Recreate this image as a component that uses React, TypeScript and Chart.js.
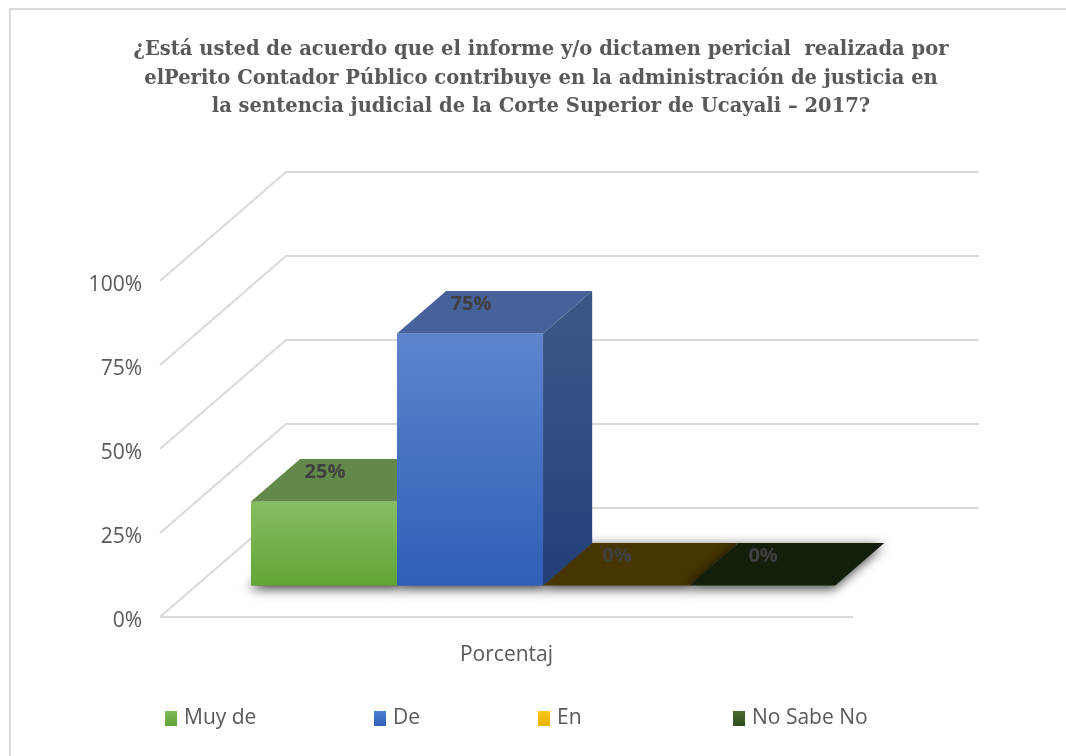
import React, { useEffect, useRef } from "react";
import { Chart, registerables } from "chart.js";

Chart.register(...registerables);

// ---------- data ----------
const TITLE_LINES = [
  "¿Está usted de acuerdo que el informe y/o dictamen pericial  realizada por",
  "elPerito Contador Público contribuye en la administración de justicia en",
  "la sentencia judicial de la Corte Superior de Ucayali – 2017?",
];
const CATEGORIES = ["Porcentaj"];
const SERIES_NAMES = ["Muy de", "De", "En", "No Sabe No"];
const SERIES_VALUES = [0.25, 0.75, 0, 0];
const Y_TICK_STEP = 0.25;
const Y_MAX = 1;

// ---------- styles ----------
const LEGEND_COLORS = [
  ["#7dbb57", "#5fa235"],
  ["#4f7fd0", "#2f5fb8"],
  ["#ffca1c", "#eab000"],
  ["#4a6d30", "#2e4d1a"],
];
const FRONT_COLORS = [
  ["#86bd63", "#62a536"],
  ["#5e84cd", "#2e5fb7"],
  ["#ffc000", "#e0a800"],
  ["#4b6e31", "#375623"],
];
const TOP_COLORS = ["#62894a", "#47619a", "#473600", "#141f0b"];
const SIDE_COLORS = [
  ["#557d3d", "#41692a"],
  ["#3a5588", "#223f78"],
  ["#5a4500", "#3a2c00"],
  ["#1e2d12", "#141f0b"],
];
const TEXT = "#595959";
const GRID = "#d9d9d9";
const SANS = '"Open Sans", "Noto Sans", sans-serif';

// depth geometry (full depth offset of the 3D box, and bar depth range)
const DX = 126;
const DY = 109;
const F0 = 0.29;
const F1 = 0.68;
const proj = (x: number, y: number, f: number): [number, number] => [x + f * DX, y - f * DY];

function poly(ctx: CanvasRenderingContext2D, pts: [number, number][]) {
  ctx.beginPath();
  ctx.moveTo(pts[0][0], pts[0][1]);
  for (let i = 1; i < pts.length; i++) ctx.lineTo(pts[i][0], pts[i][1]);
  ctx.closePath();
}

const threeD = {
  id: "threeD",
  beforeDraw(chart: any) {
    const ctx = chart.ctx as CanvasRenderingContext2D;
    ctx.save();
    ctx.fillStyle = "#ffffff";
    ctx.fillRect(0, 0, chart.width, chart.height);
    ctx.strokeStyle = GRID;
    ctx.lineWidth = 2;
    ctx.beginPath();
    ctx.moveTo(10, chart.height + 5);
    ctx.lineTo(10, 9);
    ctx.lineTo(chart.width + 5, 9);
    ctx.stroke();
    ctx.restore();
  },
  beforeDatasetsDraw(chart: any) {
    const ctx = chart.ctx as CanvasRenderingContext2D;
    const { left, right, bottom } = chart.chartArea;
    const ys = chart.scales.y;
    ctx.save();
    ctx.strokeStyle = GRID;
    ctx.lineWidth = 2;
    ys.ticks.forEach((t: any) => {
      const y = ys.getPixelForValue(t.value);
      const [bx, by] = proj(left, y, 1);
      const [rx] = proj(right, y, 1);
      ctx.beginPath();
      ctx.moveTo(left, y);
      ctx.lineTo(bx, by);
      ctx.lineTo(rx, by);
      ctx.stroke();
    });
    ctx.beginPath();
    ctx.moveTo(left, bottom);
    ctx.lineTo(right, bottom);
    ctx.stroke();

    // bars
    const bars: any[] = [];
    chart.data.datasets.forEach((ds: any, i: number) => {
      const meta = chart.getDatasetMeta(i);
      const el = meta.data[0];
      const p = el.getProps(["x", "y", "base", "width"], true);
      bars.push({ i, l: p.x - p.width / 2, r: p.x + p.width / 2, cx: p.x, y: p.y, base: p.base, v: ds.data[0] });
    });

    // shadows + flat faces
    bars.forEach((b) => {
      ctx.save();
      ctx.shadowColor = "rgba(0,0,0,0.8)";
      ctx.shadowBlur = 12;
      ctx.shadowOffsetX = -2;
      ctx.shadowOffsetY = 3;
      ctx.fillStyle = TOP_COLORS[b.i];
      poly(ctx, [proj(b.l, b.base, F0), proj(b.r, b.base, F0), proj(b.r, b.base, F1), proj(b.l, b.base, F1)]);
      ctx.fill();
      ctx.restore();
    });

    // boxes
    bars.forEach((b) => {
      if (Math.abs(b.base - b.y) < 0.5) return;
      const [fx0, fyTop] = proj(b.l, b.y, F0);
      const [fx1, fyBase] = proj(b.r, b.base, F0);
      const g = ctx.createLinearGradient(0, fyTop, 0, fyBase);
      g.addColorStop(0, FRONT_COLORS[b.i][0]);
      g.addColorStop(1, FRONT_COLORS[b.i][1]);
      ctx.fillStyle = g;
      ctx.fillRect(fx0, fyTop, fx1 - fx0, fyBase - fyTop);
      // top
      ctx.fillStyle = TOP_COLORS[b.i];
      poly(ctx, [proj(b.l, b.y, F0), proj(b.r, b.y, F0), proj(b.r, b.y, F1), proj(b.l, b.y, F1)]);
      ctx.fill();
      // side
      const sg = ctx.createLinearGradient(0, fyTop, 0, fyBase);
      sg.addColorStop(0, SIDE_COLORS[b.i][0]);
      sg.addColorStop(1, SIDE_COLORS[b.i][1]);
      ctx.fillStyle = sg;
      poly(ctx, [proj(b.r, b.y, F0), proj(b.r, b.y, F1), proj(b.r, b.base, F1), proj(b.r, b.base, F0)]);
      ctx.fill();
    });

    // value labels
    ctx.font = `bold 20px ${SANS}`;
    ctx.fillStyle = "#404040";
    ctx.textAlign = "center";
    ctx.textBaseline = "middle";
    bars.forEach((b) => {
      const [x, y] = proj(b.cx, b.y, F0);
      ctx.fillText(`${Math.round(b.v * 100)}%`, x + 1, y - 29);
    });
    ctx.restore();
    return false;
  },
  afterDraw(chart: any) {
    const ctx = chart.ctx as CanvasRenderingContext2D;
    ctx.save();
    // title
    const fam = '"DejaVu Serif", serif';
    ctx.font = `bold 20px ${fam}`;
    const w = ctx.measureText(TITLE_LINES[0]).width;
    const size = (20 * 815) / w;
    ctx.font = `bold ${size.toFixed(2)}px ${fam}`;
    ctx.fillStyle = TEXT;
    ctx.textAlign = "center";
    ctx.textBaseline = "alphabetic";
    const baselines = [55, 83.5, 112];
    TITLE_LINES.forEach((line, i) => ctx.fillText(line, 541, baselines[i]));

    // legend
    const boxX = [165, 374, 538, 733];
    ctx.font = `21px ${SANS}`;
    ctx.textAlign = "left";
    ctx.textBaseline = "middle";
    SERIES_NAMES.forEach((name, i) => {
      const g = ctx.createLinearGradient(0, 711, 0, 726);
      g.addColorStop(0, LEGEND_COLORS[i][0]);
      g.addColorStop(1, LEGEND_COLORS[i][1]);
      ctx.fillStyle = g;
      ctx.fillRect(boxX[i], 711, 12, 15);
      ctx.fillStyle = TEXT;
      ctx.fillText(name, boxX[i] + 19, 718);
    });
    ctx.restore();
  },
};

export default function App() {
  const ref = useRef<HTMLCanvasElement>(null);
  useEffect(() => {
    document.body.style.margin = "0";
    const canvas = ref.current!;
    const chart = new Chart(canvas, {
      type: "bar",
      data: {
        labels: CATEGORIES,
        datasets: SERIES_NAMES.map((name, i) => ({
          label: name,
          data: [SERIES_VALUES[i]],
          backgroundColor: LEGEND_COLORS[i][0],
        })),
      },
      options: {
        responsive: false,
        animation: false,
        devicePixelRatio: 1,
        layout: { padding: { left: 16, top: 281, right: 213, bottom: 0 } },
        datasets: { bar: { categoryPercentage: 0.843, barPercentage: 1 } } as any,
        plugins: {
          legend: { display: false },
          title: { display: false },
          tooltip: { enabled: false },
        },
        scales: {
          x: {
            grid: { display: false, drawTicks: false },
            border: { display: false },
            ticks: { padding: 25, color: TEXT, font: { family: SANS, size: 21 } },
            afterFit: (s: any) => {
              s.height = 139;
            },
          },
          y: {
            min: 0,
            max: Y_MAX,
            grid: { display: false, drawTicks: false },
            border: { display: false },
            ticks: {
              stepSize: Y_TICK_STEP,
              padding: 18,
              labelOffset: 4,
              color: TEXT,
              font: { family: SANS, size: 21 },
              callback: (v: any) => `${Math.round(Number(v) * 100)}%`,
            },
            afterFit: (s: any) => {
              s.width = 144;
            },
          },
        },
      } as any,
      plugins: [threeD],
    });
    return () => chart.destroy();
  }, []);
  return (
    <div style={{ width: 1066, height: 756, overflow: "hidden" }}>
      <canvas ref={ref} width={1066} height={756} style={{ display: "block" }} />
    </div>
  );
}
